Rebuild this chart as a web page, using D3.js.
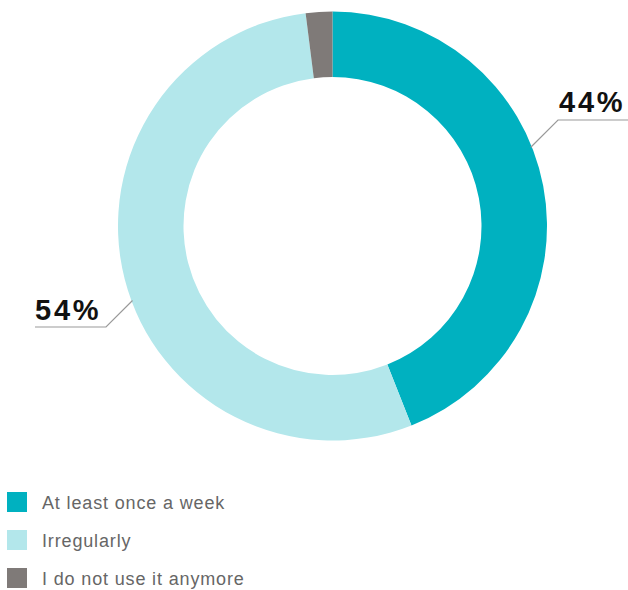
<!DOCTYPE html>
<html><head><meta charset="utf-8">
<script src="https://cdn.jsdelivr.net/npm/d3@7"></script>
<style>html,body{margin:0;padding:0;background:#fff;}</style>
</head><body>
<svg id="c" width="628" height="590"></svg>
<script>
const categories = ["At least once a week", "Irregularly", "I do not use it anymore"];
const values = [44, 54, 2];
const colors = ["#00b1c0", "#b3e7eb", "#7f7a78"];
const labelTexts = ["44%", "54%", null];

const svg = d3.select("#c");
const cx = 332.5, cy = 226, rOuter = 214.5, rInner = 149;
const g = svg.append("g").attr("transform", `translate(${cx},${cy})`);
const pie = d3.pie().sort(null).value(d => d)(values);
const arc = d3.arc().innerRadius(rInner).outerRadius(rOuter);
g.selectAll("path").data(pie).join("path")
  .attr("d", arc).attr("fill", (d, i) => colors[i]);

// leader lines: 45° diagonal from elbow to the ring's outer edge
const lblConf = [
  {dir: -1, elbowX: 558, elbowY: 120, endX: 628, tx: 559, ty: 112},
  {dir: 1, elbowX: 106, elbowY: 327, endX: 35, tx: 35, ty: 320}
];
pie.forEach((d, i) => {
  if (!labelTexts[i]) return;
  const c = lblConf[i];
  let t = 0, px = c.elbowX, py = c.elbowY;
  const dx = c.dir, dy = c.dir === -1 ? 1 : -1;
  for (t = 0; t < 200; t += 0.25) {
    px = c.elbowX + dx * t; py = c.elbowY + dy * t;
    if (Math.hypot(px - cx, py - cy) <= rOuter - 1) break;
  }
  svg.append("polyline")
    .attr("points", `${px},${py} ${c.elbowX},${c.elbowY} ${c.endX},${c.elbowY}`)
    .attr("fill", "none").attr("stroke", "#999").attr("stroke-width", 1.2);
  svg.append("text").attr("x", c.tx).attr("y", c.ty)
    .attr("font-family", "Liberation Sans, Arial, sans-serif")
    .attr("font-weight", "bold").attr("font-size", 29)
    .attr("letter-spacing", 2.8).attr("fill", "#111")
    .text(labelTexts[i]);
});

// legend
const lg = svg.append("g");
categories.forEach((cat, i) => {
  const y = 492 + i * 38;
  lg.append("rect").attr("x", 7).attr("y", y).attr("width", 20).attr("height", 20).attr("fill", colors[i]);
  lg.append("text").attr("x", 42).attr("y", y + 16.5)
    .attr("font-family", "Liberation Sans, Arial, sans-serif")
    .attr("font-size", 18).attr("letter-spacing", 0.85).attr("fill", "#666")
    .text(cat);
});
</script>
</body></html>
